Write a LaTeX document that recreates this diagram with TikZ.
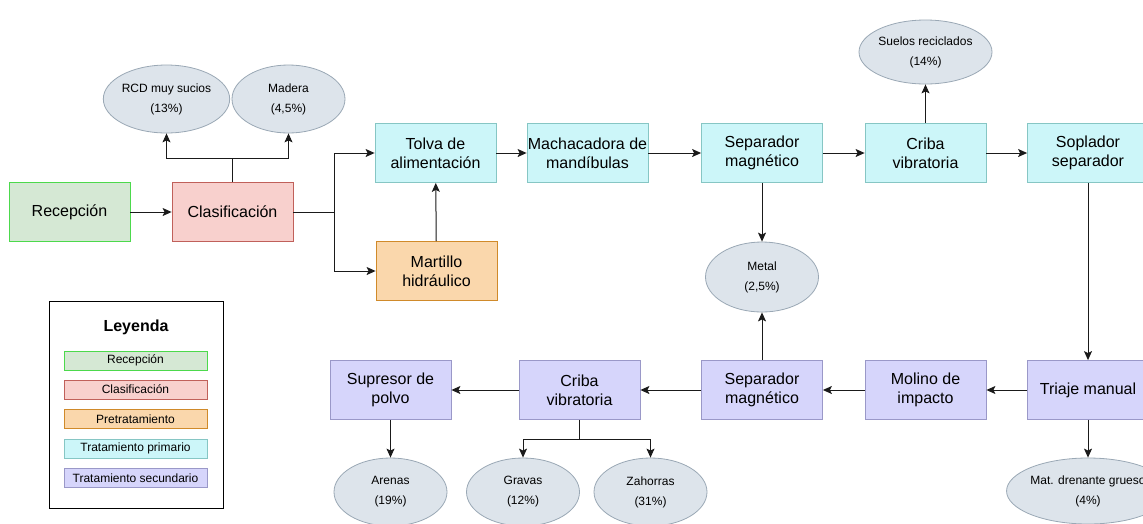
\documentclass[tikz,border=0pt]{standalone}
\usepackage{fontspec}
\setmainfont{Liberation Sans}
\usetikzlibrary{shapes.geometric,arrows.meta}
\definecolor{recF}{HTML}{D5E8D4}\definecolor{recD}{HTML}{4CD94C}
\definecolor{claF}{HTML}{F8D0CD}\definecolor{claD}{HTML}{C0605A}
\definecolor{preF}{HTML}{FAD7AC}\definecolor{preD}{HTML}{D08A2A}
\definecolor{priF}{HTML}{CCF6F9}\definecolor{priD}{HTML}{86C6C4}
\definecolor{secF}{HTML}{D6D5FB}\definecolor{secD}{HTML}{9A98C8}
\definecolor{ellF}{HTML}{DDE4EB}\definecolor{ellD}{HTML}{9AA8B5}
\definecolor{lineC}{HTML}{1A1A1A}
\tikzset{
  procbox/.style={rectangle, draw, line width=0.8pt, minimum width=121pt, minimum height=59pt, inner sep=0pt, align=center, font=\fontsize{16}{19}\selectfont},
  recbox/.style={procbox, fill=recF, draw=recD},
  clabox/.style={procbox, fill=claF, draw=claD},
  prebox/.style={procbox, fill=preF, draw=preD},
  pribox/.style={procbox, fill=priF, draw=priD},
  secbox/.style={procbox, fill=secF, draw=secD},
  outell/.style={ellipse, draw=ellD, fill=ellF, line width=0.8pt, minimum width=113pt, minimum height=68pt, inner sep=0pt, align=center, font=\fontsize{12}{20}\selectfont},
  legitem/.style={rectangle, draw, line width=0.8pt, minimum width=143pt, minimum height=19pt, inner sep=0pt, font=\fontsize{12}{14}\selectfont},
  conn/.style={draw=lineC, line width=1pt, -{Stealth[length=9pt,width=8pt,inset=2pt]}},
  plain/.style={draw=lineC, line width=1pt},
}
\begin{document}
\begin{tikzpicture}[x=1pt,y=-1pt]
\clip (0,0) rectangle (1143,523);
\fill[white] (0,0) rectangle (1143,523);
% main boxes
\node[recbox] (rec) at (69.5,212) {Recepción};
\node[clabox] (clas) at (232.5,212) {Clasificación};
\node[pribox] (tolva) at (435.5,153) {Tolva de\\alimentación};
\node[prebox] (mart) at (436.5,271) {Martillo\\hidráulico};
\node[pribox] (mach) at (587.5,153) {Machacadora de\\mandíbulas};
\node[pribox] (sepa) at (762,153) {Separador\\magnético};
\node[pribox] (cribaa) at (925.5,153) {Criba\\vibratoria};
\node[pribox] (sopl) at (1088,153) {Soplador\\separador};
\node[secbox] (triaje) at (1088,390) {Triaje manual};
\node[secbox] (molino) at (925.5,390) {Molino de\\impacto};
\node[secbox] (sepb) at (762,390) {Separador\\magnético};
\node[secbox] (cribab) at (579.5,390) {Criba\\vibratoria};
\node[secbox] (supr) at (390.5,390) {Supresor de\\polvo};
% outputs
\node[outell] (rcd) at (166.5,99) {RCD muy sucios\\(13\%)};
\node[outell] (mad) at (288.5,99) {Madera\\(4,5\%)};
\node[outell, minimum width=112pt, minimum height=64pt] (suelos) at (925.5,52) {Suelos reciclados\\(14\%)};
\node[outell, minimum height=70pt] (metal) at (762,277) {Metal\\(2,5\%)};
\node[outell] (arenas) at (390.5,492) {Arenas\\(19\%)};
\node[outell] (gravas) at (523,492) {Gravas\\(12\%)};
\node[outell] (zah) at (650.5,492) {Zahorras\\(31\%)};
\node[outell, minimum width=130pt, minimum height=66pt] (mat) at (1088,491) {Mat. drenante grueso\\(4\%)};
% helper coordinates
\coordinate (csplit) at (232.5,158);
\coordinate (rsplit) at (334,212);
\coordinate (bsplit) at (579.5,439);
% connectors
\draw[conn] (rec) -- (clas);
\draw[plain] (clas.north) -- (csplit);
\draw[conn] (csplit) -| (rcd.south);
\draw[conn] (csplit) -| (mad.south);
\draw[plain] (clas.east) -- (rsplit);
\draw[conn] (rsplit) |- (tolva.west);
\draw[conn] (rsplit) |- (mart.west);
\draw[conn] (mart) -- (tolva);
\draw[conn] (tolva) -- (mach);
\draw[conn] (mach) -- (sepa);
\draw[conn] (sepa) -- (cribaa);
\draw[conn] (cribaa) -- (sopl);
\draw[conn] (cribaa) -- (suelos);
\draw[conn] (sepa) -- (metal);
\draw[conn] (sopl) -- (triaje);
\draw[conn] (triaje) -- (molino);
\draw[conn] (molino) -- (sepb);
\draw[conn] (sepb) -- (metal);
\draw[conn] (sepb) -- (cribab);
\draw[conn] (cribab) -- (supr);
\draw[conn] (supr) -- (arenas);
\draw[plain] (cribab.south) -- (bsplit);
\draw[conn] (bsplit) -| (gravas.north);
\draw[conn] (bsplit) -| (zah.north);
\draw[conn] (triaje) -- (mat);
% legend
\node[draw=black, line width=0.8pt, minimum width=174pt, minimum height=207pt, inner sep=0pt] (legend) at (136,404.5) {};
\node[font=\fontsize{16}{19}\selectfont\bfseries] (legtitle) at (136,327) {Leyenda};
\node[legitem, fill=recF, draw=recD] (l1) at (135.5,360.5) {Recepción};
\node[legitem, fill=claF, draw=claD] (l2) at (135.5,389.5) {Clasificación};
\node[legitem, fill=preF, draw=preD] (l3) at (135.5,419) {Pretratamiento};
\node[legitem, fill=priF, draw=priD] (l4) at (135.5,448.5) {Tratamiento primario};
\node[legitem, fill=secF, draw=secD] (l5) at (135.5,478) {Tratamiento secundario};
\end{tikzpicture}
\end{document}
